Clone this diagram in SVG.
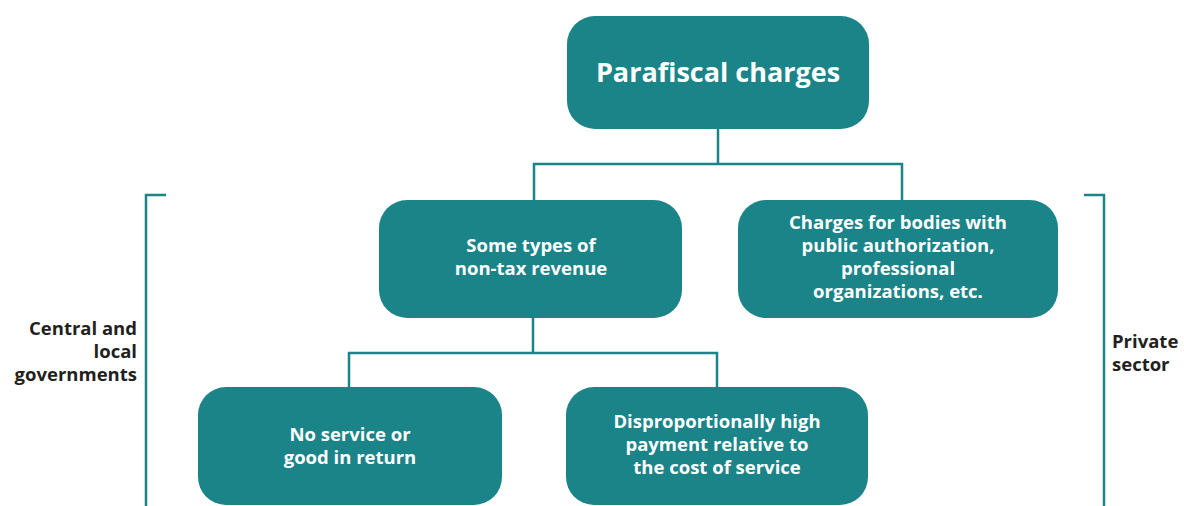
<svg xmlns="http://www.w3.org/2000/svg" width="1184" height="506" viewBox="0 0 1184 506">
<style>
.box{fill:#1b8488;}
.t{font-family:"Open Sans","Noto Sans",sans-serif;font-weight:700;fill:#ffffff;text-anchor:middle;font-size:18.5px;}
.title{font-size:27px;}
.lbl{font-family:"Open Sans","Noto Sans",sans-serif;font-weight:700;fill:#231f20;font-size:18.5px;}
.ln{fill:none;stroke:#1b8488;stroke-width:2.5;}
</style>
<rect width="1184" height="506" fill="#ffffff"/>
<g id="connectors">
<path class="ln" d="M718 129V164M534 200V164H902V200"/>
<path class="ln" d="M533 318V353M349 387V353H717V387"/>
</g>
<g id="bracket-left">
<path class="ln" d="M166 195H146V506"/>
<text class="lbl" text-anchor="end"><tspan x="137" y="335">Central and</tspan><tspan x="137" y="358">local</tspan><tspan x="137" y="381">governments</tspan></text>
</g>
<g id="bracket-right">
<path class="ln" d="M1084 195H1104V506"/>
<text class="lbl"><tspan x="1112" y="348">Private</tspan><tspan x="1112" y="371">sector</tspan></text>
</g>
<g id="n-top">
<rect class="box" x="567" y="16" width="302" height="113" rx="28"/>
<text class="t title" x="718" y="82">Parafiscal charges</text>
</g>
<g id="n-nontax">
<rect class="box" x="379" y="200" width="303" height="118" rx="28"/>
<text class="t"><tspan x="531" y="252">Some types of</tspan><tspan x="531" y="275">non-tax revenue</tspan></text>
</g>
<g id="n-bodies">
<rect class="box" x="738" y="200" width="320" height="118" rx="28"/>
<text class="t"><tspan x="898" y="229">Charges for bodies with</tspan><tspan x="898" y="252">public authorization,</tspan><tspan x="898" y="275">professional</tspan><tspan x="898" y="298">organizations, etc.</tspan></text>
</g>
<g id="n-noservice">
<rect class="box" x="198" y="387" width="304" height="118" rx="28"/>
<text class="t"><tspan x="350" y="441">No service or</tspan><tspan x="350" y="464">good in return</tspan></text>
</g>
<g id="n-disprop">
<rect class="box" x="566" y="387" width="302" height="118" rx="28"/>
<text class="t"><tspan x="717" y="428">Disproportionally high</tspan><tspan x="717" y="451">payment relative to</tspan><tspan x="717" y="474">the cost of service</tspan></text>
</g>
</svg>
